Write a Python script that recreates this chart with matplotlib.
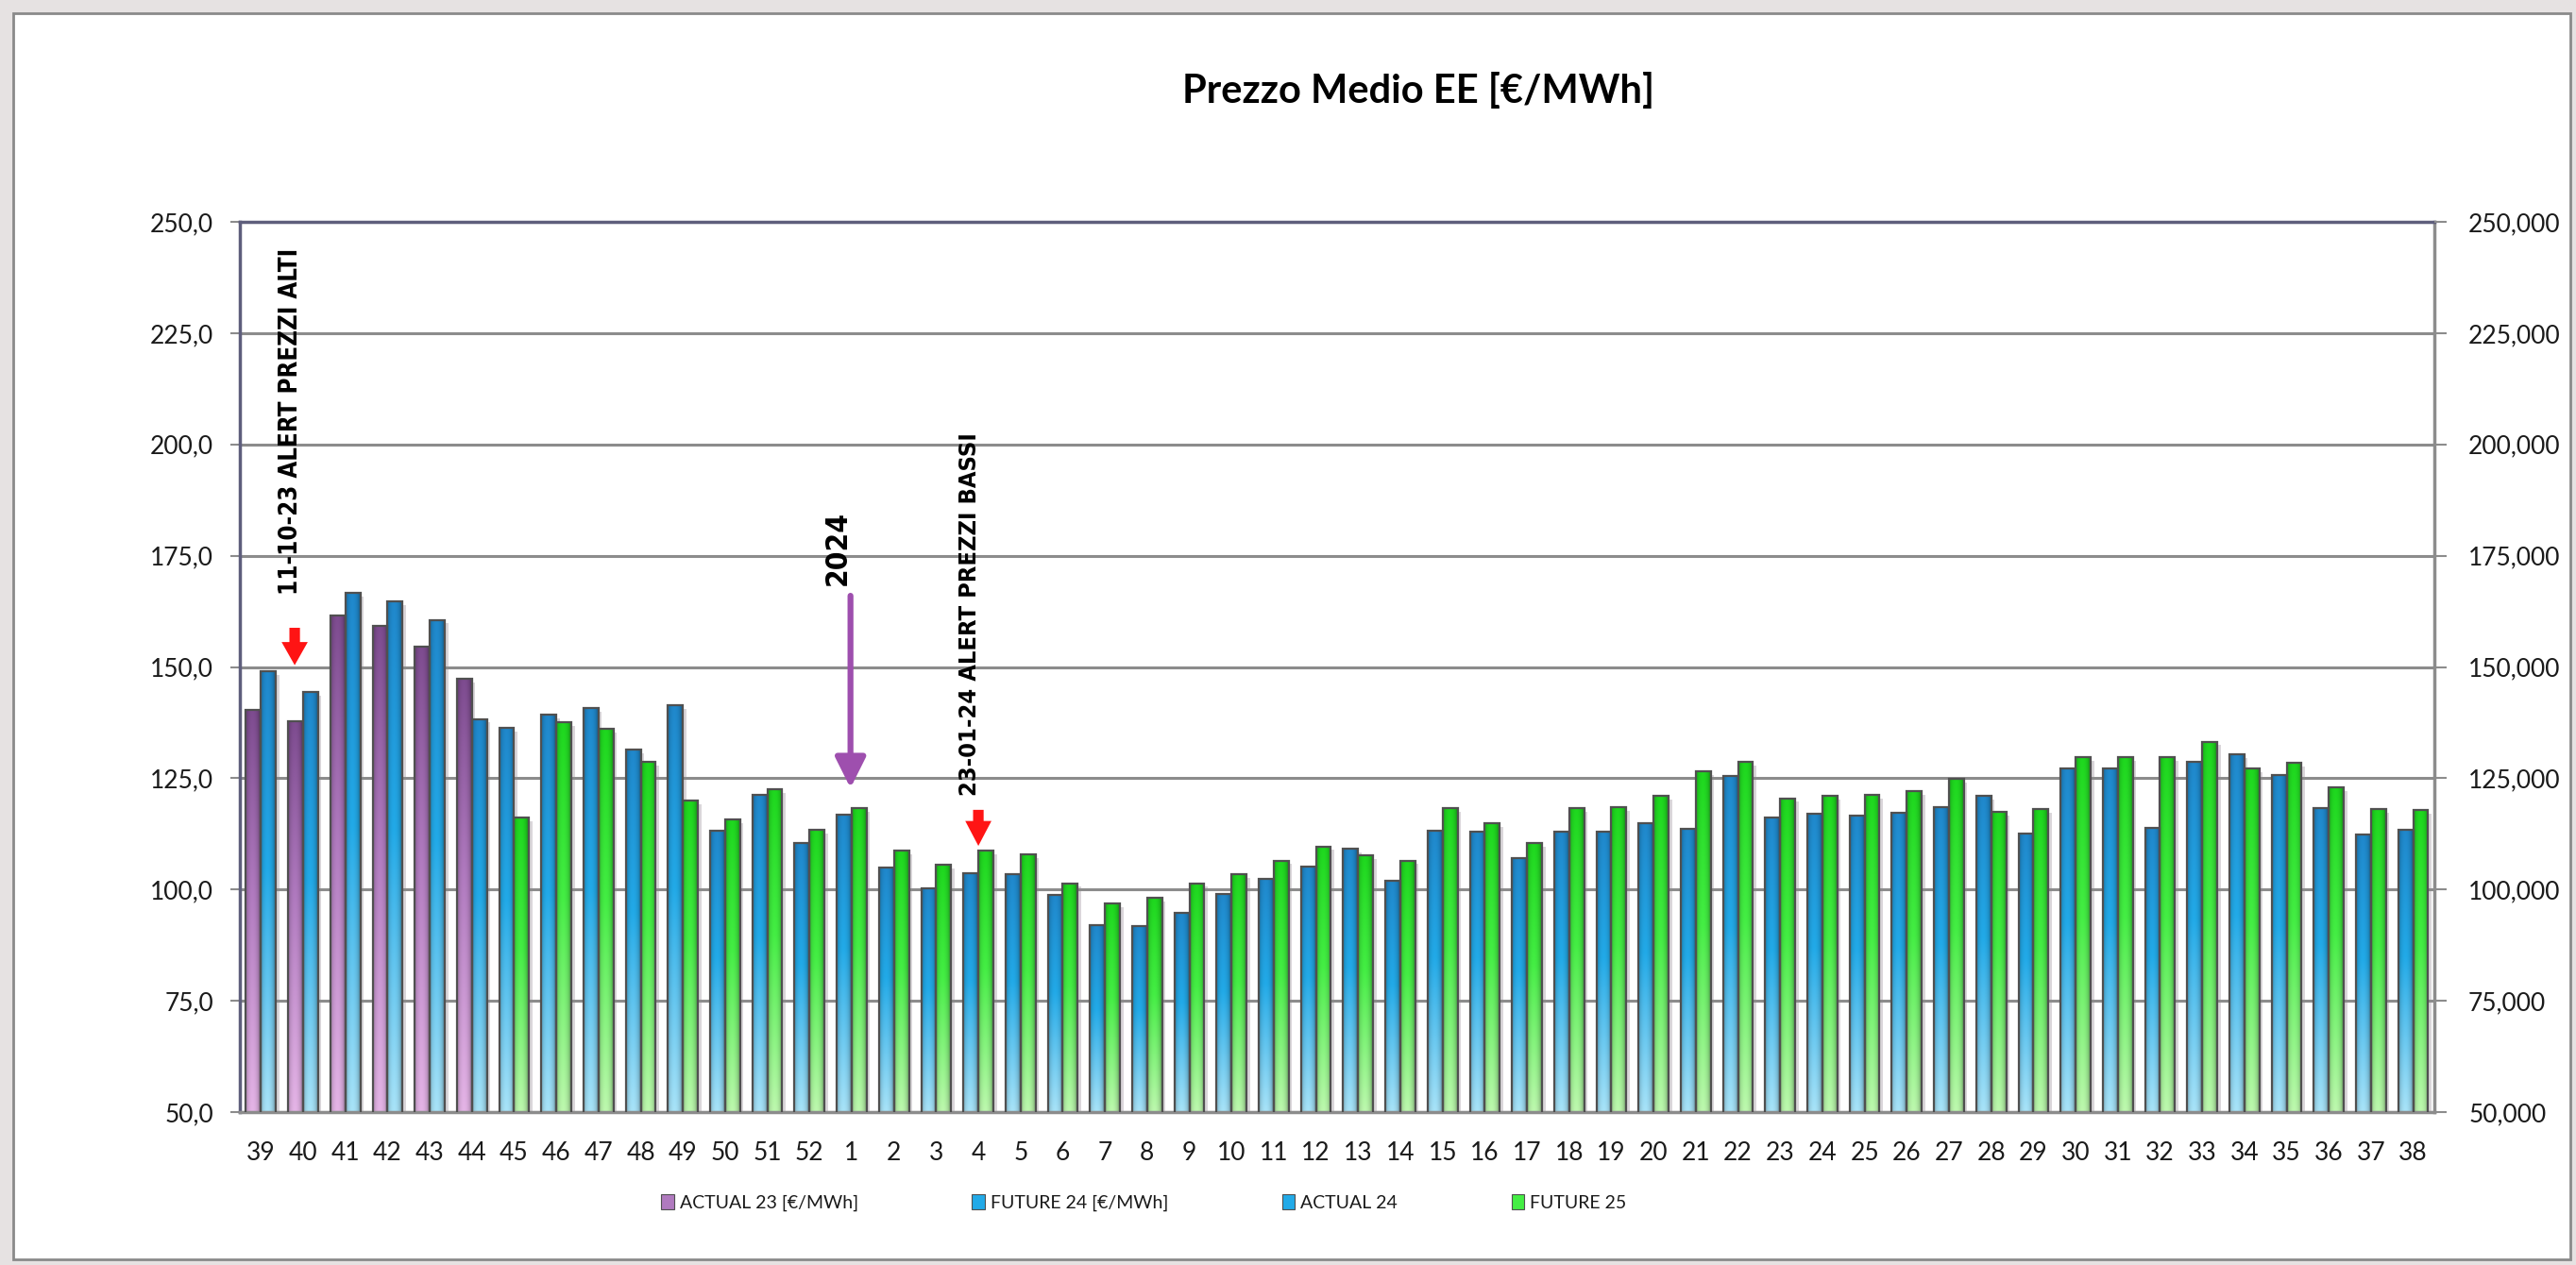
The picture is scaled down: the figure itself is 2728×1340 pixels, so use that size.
import numpy as np
import matplotlib.pyplot as plt
from matplotlib import font_manager
from matplotlib.patches import Patch, Rectangle, FancyArrow
from matplotlib.colors import to_rgb

plt.rcParams['font.family'] = ['Lato', 'DejaVu Sans']

# settimane (asse x)
settimane = ['39', '40', '41', '42', '43', '44', '45', '46', '47', '48', '49', '50', '51', '52',
             '1', '2', '3', '4', '5', '6', '7', '8', '9', '10', '11', '12', '13', '14', '15',
             '16', '17', '18', '19', '20', '21', '22', '23', '24', '25', '26', '27', '28', '29',
             '30', '31', '32', '33', '34', '35', '36', '37', '38']

# settimane 39-44 (2023)
actual_23 = [140.3, 137.9, 161.6, 159.2, 154.6, 147.3]
future_24 = [149.1, 144.4, 166.7, 164.8, 160.6, 138.3]

# settimane 45-38
actual_24 = [136.3, 139.2, 140.8, 131.5, 141.4, 113.1, 121.2, 110.4,
             116.9, 104.9, 100.2, 103.6, 103.4, 98.8, 91.9, 91.7, 94.7, 99.0,
             102.4, 105.1, 109.1, 102.0, 113.2, 112.9, 107.1, 112.9, 112.9, 114.9,
             113.6, 125.6, 116.1, 117.1, 116.5, 117.3, 118.5, 121.0, 112.6, 127.2,
             127.2, 113.8, 128.6, 130.4, 125.7, 118.4, 112.3, 113.4]
future_25 = [116.1, 137.6, 136.1, 128.6, 119.9, 115.8, 122.5, 113.4,
             118.2, 108.8, 105.5, 108.8, 107.9, 101.4, 96.9, 98.1, 101.4, 103.4,
             106.5, 109.7, 107.7, 106.5, 118.3, 114.8, 110.5, 118.3, 118.5, 121.0,
             126.6, 128.6, 120.5, 121.0, 121.3, 122.1, 124.8, 117.5, 118.0, 129.8,
             129.8, 129.8, 133.2, 127.2, 128.4, 122.9, 118.0, 117.9]

serie = ['ACTUAL 23 [€/MWh]', 'FUTURE 24 [€/MWh]', 'ACTUAL 24', 'FUTURE 25']
# colori (alto, centro, basso)
col_viola = ('#7E4C90', '#B07ABF', '#E4B4E6')
col_blu = ('#2088CC', '#22AAE8', '#A8E3F8')
col_verde = ('#1ED81E', '#44EE44', '#BDF8AE')

YMIN, YMAX = 50, 250


def gradiente(colori):
    top, mid, bot = [np.array(to_rgb(c)) for c in colori]
    t = np.linspace(0, 1, 90)[:, None]
    col = np.where(t < 0.45, top + (mid - top) * (t / 0.45), mid + (bot - mid) * ((t - 0.45) / 0.55))
    s = np.linspace(0, 1, 24)
    shade = 0.72 + 0.28 * np.sin(np.pi * np.clip(s * 1.08, 0, 1)) ** 0.6
    return np.clip(col[:, None, :] * shade[None, :, None], 0, 1)


def colora(ax, bars, colori):
    img = gradiente(colori)
    for p in bars:
        x0, w, h = p.get_x(), p.get_width(), p.get_height()
        im = ax.imshow(img, extent=(x0, x0 + w, YMIN, h), origin='upper', aspect='auto',
                       interpolation='bilinear', zorder=2)
        im.set_clip_path(p)
        # ombra a destra della barra
        ax.add_patch(Rectangle((x0 + 0.05, 0), w + 0.03, h - 0.8, facecolor='#DAD6DA',
                               edgecolor='none', zorder=0.4))


fig = plt.figure(figsize=(27.28, 13.40), dpi=100, facecolor='#E6E2E2')
fig.patches.append(Rectangle((14 / 2728, 6 / 1340), 1 - 20 / 2728, 1 - 20 / 1340, transform=fig.transFigure,
                             facecolor='white', edgecolor='#8A8A8A', lw=2, zorder=-5))

ax = fig.add_axes([0.0931, 0.1209, 0.8519, 0.7037])
ax.set_facecolor('none')

x = np.arange(len(settimane))
bw = 0.355
n_old = len(actual_23)
b1 = ax.bar(x[:n_old] - bw / 2, actual_23, bw, facecolor='none', edgecolor='#505050', lw=1.6, zorder=3)
b2 = ax.bar(x[:n_old] + bw / 2, future_24, bw, facecolor='none', edgecolor='#505050', lw=1.6, zorder=3)
b3 = ax.bar(x[n_old:] - bw / 2, actual_24, bw, facecolor='none', edgecolor='#505050', lw=1.6, zorder=3)
b4 = ax.bar(x[n_old:] + bw / 2, future_25, bw, facecolor='none', edgecolor='#505050', lw=1.6, zorder=3)
colora(ax, b1, col_viola)
colora(ax, b2, col_blu)
colora(ax, b3, col_blu)
colora(ax, b4, col_verde)

ax.set_xlim(-0.5, len(settimane) - 0.5)
ax.set_ylim(YMIN, YMAX)
yt = np.arange(YMIN, YMAX + 1, 25)
ax.set_yticks(yt)
ax.set_yticklabels([f'{v:.1f}'.replace('.', ',') for v in yt])
ax.set_xticks(x)
ax.set_xticklabels(settimane)
ax.tick_params(axis='x', length=0, pad=22, labelsize=19, labelcolor='#1a1a1a')
ax.tick_params(axis='y', length=7, width=1.5, color='#8C8C8C', pad=13, labelsize=19, labelcolor='#1a1a1a')
ax.yaxis.grid(True, color='#8C8C8C', lw=2.2)
ax.set_axisbelow(True)
for lato in ['left', 'top']:
    ax.spines[lato].set_color('#5E5E7C')
    ax.spines[lato].set_linewidth(2.5)
for lato in ['right', 'bottom']:
    ax.spines[lato].set_color('#8C8C8C')
    ax.spines[lato].set_linewidth(2.5)

ax2 = ax.twinx()
ax2.set_ylim(YMIN, YMAX)
ax2.set_yticks(yt)
ax2.set_yticklabels([f'{v:.3f}'.replace('.', ',') for v in yt])
ax2.tick_params(axis='y', length=9, width=1.5, color='#8C8C8C', pad=17, labelsize=19, labelcolor='#1a1a1a')
for sp in ax2.spines.values():
    sp.set_visible(False)

fig.text(0.5507, 0.928, 'Prezzo Medio EE [€/MWh]', ha='center', va='center', fontsize=30, fontweight='bold')

# font stretto per le note
nomi = {f.name for f in font_manager.fontManager.ttflist}
if 'Liberation Sans Narrow' in nomi:
    stretto = dict(family=['Liberation Sans Narrow', 'DejaVu Sans'])
else:
    stretto = dict(family=['DejaVu Sans'], stretch='condensed')

t1 = ax.text(0.70, 166.3, '11-10-23 ALERT PREZZI ALTI', rotation=90, ha='center', va='bottom',
             fontsize=24, fontweight='bold', zorder=5, **stretto)
t2 = ax.text(16.8, 121.1, '23-01-24 ALERT PREZZI BASSI', rotation=90, ha='center', va='bottom',
             fontsize=24, fontweight='bold', zorder=5, **stretto)
t3 = ax.text(13.66, 168.3, '2024', rotation=90, ha='center', va='bottom', fontsize=30,
             fontweight='bold', zorder=5, **stretto)

ax.add_patch(FancyArrow(0.80, 158.8, 0, -8.4, width=0.25, head_width=0.62, head_length=5.2,
                        length_includes_head=True, color='#FF1414', lw=0, zorder=5))
ax.add_patch(FancyArrow(17.0, 117.9, 0, -8.1, width=0.25, head_width=0.62, head_length=5.6,
                        length_includes_head=True, color='#FF1414', lw=0, zorder=5))
ax.annotate('', xy=(13.97, 122.8), xytext=(13.97, 166.0), zorder=5,
            arrowprops=dict(arrowstyle='-|>,head_length=0.7,head_width=0.35', color='#9E4FAE',
                            lw=4.5, mutation_scale=28, shrinkA=0, shrinkB=0))

# adatta la lunghezza delle note verticali
fig.canvas.draw()
r = fig.canvas.get_renderer()
for t, lung in [(t1, 367), (t2, 385), (t3, 79)]:
    h = t.get_window_extent(r).height
    t.set_fontsize(t.get_fontsize() * lung / h)

handles = [Patch(facecolor='#B07ABF', edgecolor='#505050', lw=0.8),
           Patch(facecolor='#22AAE8', edgecolor='#505050', lw=0.8),
           Patch(facecolor='#22AAE8', edgecolor='#505050', lw=0.8),
           Patch(facecolor='#44EE44', edgecolor='#505050', lw=0.8)]
fig.legend(handles, serie, loc='center', bbox_to_anchor=(0.444, 0.049), ncol=4, frameon=False,
           fontsize=14, handlelength=0.7, handleheight=0.9, handletextpad=0.3, columnspacing=6.2,
           labelcolor='#1a1a1a')

fig.savefig('out.png', dpi=100, facecolor=fig.get_facecolor())
